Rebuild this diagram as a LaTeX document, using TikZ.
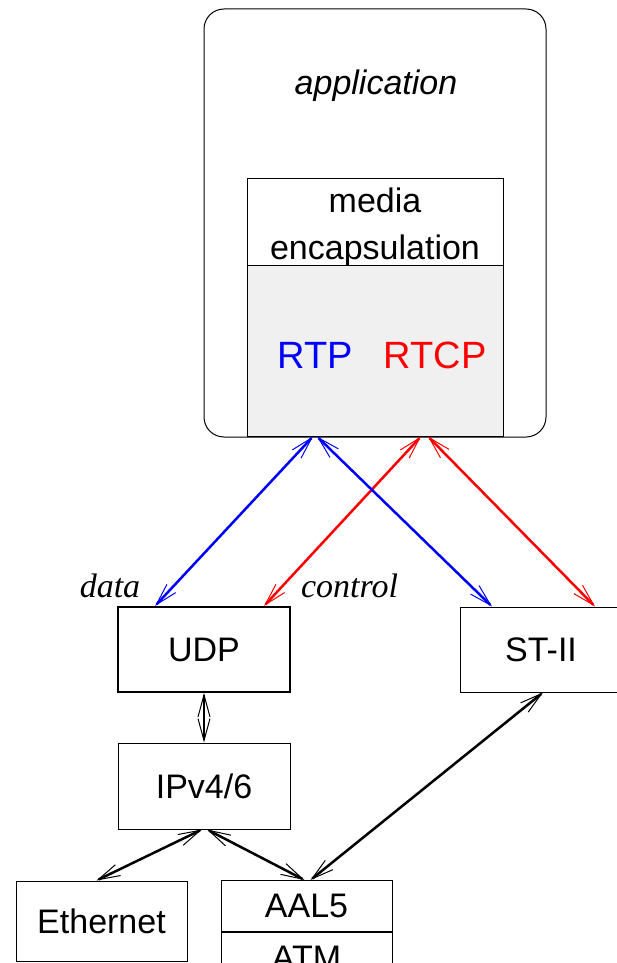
\documentclass[tikz,border=0pt]{standalone}
\usepackage{fontspec}
\setmainfont{Liberation Sans}
\newfontfamily\timesit{Liberation Serif}
\usetikzlibrary{arrows.meta,positioning}

\begin{document}
\begin{tikzpicture}[x=1pt,y=-1pt,font=\fontsize{34}{47}\selectfont]
    \tikzstyle{B}=[draw,line width=1pt,inner sep=0pt]
    \tikzstyle{A}=[line width=2.5pt,<->,>={Straight Barb[length=22pt,width=12pt,line width=1pt]}]
    \tikzstyle{D}=[A,blue]
    \tikzstyle{C}=[A,red]

    \clip (0,0) rectangle (617,963);

    % application
    \node [B,rounded corners=20pt,minimum width=342pt,minimum height=428pt] (app) at (375,223) {};
    \node [anchor=base] (apptext) at (376,95) {\itshape application};
    \node [B,align=center,minimum width=256pt,minimum height=85pt] (media) at (375,222.5) {\rule{0pt}{34pt}media\\encapsulation};
    \node [B,fill=black!6,minimum width=256pt,minimum height=171pt] (proto) at (375,350.5) {};
    \node [anchor=base,blue,font=\fontsize{38}{46}\selectfont] (rtp) at (315,368) {RTP};
    \node [anchor=base,red,font=\fontsize{38}{46}\selectfont] (rtcp) at (435,368) {RTCP};

    % transport
    \node [B,line width=2pt,minimum width=172pt,minimum height=85pt] (udp) at (204,649.5) {UDP};
    \node [B,minimum width=162pt,minimum height=85pt] (st) at (541,649.5) {ST-II};
    \node [anchor=base,font=\fontsize{34}{40}\timesit\itshape] (data) at (110,597) {data};
    \node [anchor=base,font=\fontsize{34}{40}\timesit\itshape] (control) at (349.5,597) {control};

    % network and link
    \node [B,minimum width=172pt,minimum height=86pt] (ip) at (204,786) {IPv4/6};
    \node [B,minimum width=171pt,minimum height=80pt] (eth) at (101.5,921) {Ethernet};
    \node [B,minimum width=171pt,minimum height=51pt] (aal) at (306.5,906) {AAL5};
    \node [B,minimum width=171pt,minimum height=51pt,below=0pt of aal] (atm) {ATM};

    \draw [D] ([xshift=-49pt]udp.north) -- ([xshift=-62pt]proto.south);
    \draw [C] ([xshift=60pt]udp.north) -- ([xshift=46pt]proto.south);
    \draw [D] ([xshift=-49pt]st.north) -- ([xshift=-58pt]proto.south);
    \draw [C] ([xshift=54pt]st.north) -- ([xshift=53pt]proto.south);

    \draw [A,line width=1.5pt] (udp.south) -- (ip.north);
    \draw [A] ([xshift=-5pt]eth.north) -- ([xshift=-2pt]ip.south);
    \draw [A] ([xshift=-2pt]aal.north) -- ([xshift=3pt]ip.south);
    \draw [A] ([xshift=4pt]aal.north) -- ([xshift=2pt]st.south);
\end{tikzpicture}
\end{document}
